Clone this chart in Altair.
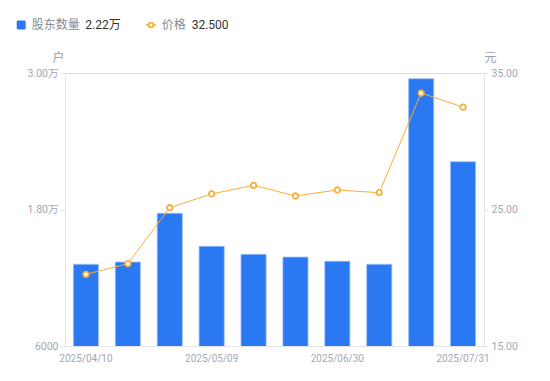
import altair as alt
import pandas as pd

# ---- data ----
dates = ["2025/04/10", "2025/04/18", "2025/04/30", "2025/05/09", "2025/05/20",
         "2025/06/10", "2025/06/30", "2025/07/10", "2025/07/20", "2025/07/31"]
holders = [13180, 13380, 17670, 14760, 14060, 13820, 13450, 13180, 29500, 22200]
prices = [20.25, 21.03, 25.13, 26.14, 26.77, 25.99, 26.43, 26.23, 33.53, 32.50]
left_ticks = [6000, 18000, 30000]
right_ticks = [15, 25, 35]
x_labels = [dates[0], dates[3], dates[6], dates[9]]
series_names = ["股东数量", "价格"]
unit_left = "户"
unit_right = "元"

df = pd.DataFrame({"date": dates, "holders": holders, "price": prices})

BLUE = "#2a78f2"
ORANGE = "#f8ae35"
AXIS_GRAY = "#e3e5ea"
LABEL_GRAY = "#a2a7b4"
TITLE_GRAY = "#9a9ea8"
FONT = "Roboto, 'Noto Sans CJK SC', sans-serif"

x_enc = alt.X(
    "date:O", sort=dates,
    scale=alt.Scale(paddingInner=0.4, paddingOuter=0.2),
    axis=alt.Axis(values=x_labels, labelAngle=0, ticks=False, domainColor=AXIS_GRAY,
                  labelColor=LABEL_GRAY, labelFontSize=10, labelPadding=7,
                  labelFont=FONT, title=None, grid=False),
)

bars = alt.Chart(df).mark_bar(color=BLUE, stroke="#9cc0fa", strokeWidth=0.8, clip=True).encode(
    x=x_enc,
    y=alt.Y(
        "holders:Q",
        scale=alt.Scale(domain=[left_ticks[0], left_ticks[-1]], nice=False, zero=False),
        axis=alt.Axis(
            values=left_ticks,
            labelExpr="datum.value >= 10000 ? format(datum.value/10000, '.2f') + '万' : format(datum.value, 'd')",
            grid=False, tickSize=5, tickColor=AXIS_GRAY, domainColor=AXIS_GRAY,
            labelColor=LABEL_GRAY, labelFontSize=10.5, labelFont=FONT, labelPadding=2,
            title=unit_left, titleAngle=0, titleX=-1, titleY=-16, titleAlign="right",
            titleBaseline="middle", titleFontWeight="normal", titleColor=TITLE_GRAY,
            titleFontSize=12, titleFont=FONT,
        ),
    ),
)

y_price = alt.Y(
    "price:Q",
    scale=alt.Scale(domain=[right_ticks[0], right_ticks[-1]], nice=False, zero=False),
    axis=alt.Axis(
        orient="right", values=right_ticks, format=".2f",
        grid=False, tickSize=4, tickColor=AXIS_GRAY, domainColor=AXIS_GRAY,
        labelColor=LABEL_GRAY, labelFontSize=10.5, labelFont=FONT, labelPadding=3,
        title=unit_right, titleAngle=0, titleX=0, titleY=-16, titleAlign="left",
        titleBaseline="middle", titleFontWeight="normal", titleColor=TITLE_GRAY,
        titleFontSize=12, titleFont=FONT,
    ),
)

price_base = alt.Chart(df).encode(x=x_enc, y=y_price)
line = price_base.mark_line(color=ORANGE, strokeWidth=1)
pts = price_base.mark_point(shape="circle", filled=True, fill="white", stroke=ORANGE,
                            strokeWidth=1.8, size=30, opacity=1)

# ---- legend (top) ----
last_holder = f"{holders[-1] / 10000:.2f}万"
last_price = f"{prices[-1]:.3f}"

def txt(s, x, color, size=12):
    return alt.Chart(pd.DataFrame({"t": [s]})).mark_text(
        align="left", baseline="middle", fontSize=size, font=FONT, color=color
    ).encode(text="t:N", x=alt.value(x), y=alt.value(-48))

leg_sq = alt.Chart(pd.DataFrame({"t": [0]})).mark_rect(color=BLUE, cornerRadius=1.5).encode(
    x=alt.value(-48.3), x2=alt.value(-39.3), y=alt.value(-52.5), y2=alt.value(-43.5))
leg_line = alt.Chart(pd.DataFrame({"t": [0]})).mark_rule(color=ORANGE, strokeWidth=1.5).encode(
    x=alt.value(81), x2=alt.value(91), y=alt.value(-48))
leg_pt = alt.Chart(pd.DataFrame({"t": [0]})).mark_point(
    shape="circle", filled=True, fill="white", stroke=ORANGE, strokeWidth=1.8, size=22, opacity=1
).encode(x=alt.value(86), y=alt.value(-48))

legend = alt.layer(
    leg_sq, txt(series_names[0], -33.3, "#868b96"), txt(last_holder, 20.3, "#333333"),
    leg_line, leg_pt, txt(series_names[1], 96.7, "#868b96"), txt(last_price, 126.7, "#333333"),
)

chart = alt.layer(bars, alt.layer(line, pts), legend).resolve_scale(y="independent").properties(
    width=419, height=273,
    autosize=alt.AutoSizeParams(type="none"),
    padding={"left": 57, "top": 65, "right": 58, "bottom": 27},
).configure_view(stroke=None).configure(background="white")

chart.save("out.html", embed_options={"renderer": "svg", "actions": False})
